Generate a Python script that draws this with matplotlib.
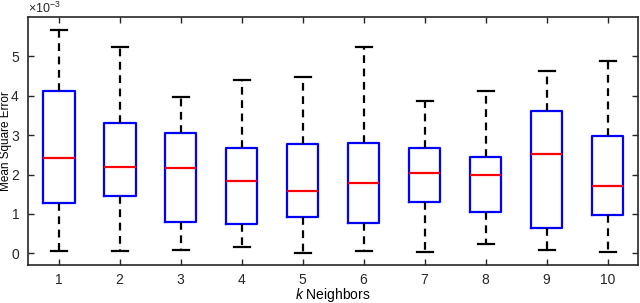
import matplotlib.pyplot as plt
import numpy as np

plt.rcParams["font.family"] = ["Liberation Sans", "DejaVu Sans"]
plt.rcParams["mathtext.fontset"] = "custom"
plt.rcParams["mathtext.rm"] = "Liberation Sans"
plt.rcParams["mathtext.it"] = "Liberation Sans:italic"

# summary stats (units of 1e-3)
k_values = [1, 2, 3, 4, 5, 6, 7, 8, 9, 10]
whisker_low = [0.06, 0.05, 0.09, 0.15, 0.01, 0.07, 0.03, 0.23, 0.09, 0.03]
q1 = [1.27, 1.45, 0.79, 0.75, 0.92, 0.78, 1.31, 1.04, 0.64, 0.97]
median = [2.43, 2.18, 2.17, 1.84, 1.57, 1.78, 2.03, 2.00, 2.53, 1.70]
q3 = [4.13, 3.30, 3.06, 2.68, 2.77, 2.80, 2.68, 2.44, 3.61, 2.99]
whisker_high = [5.66, 5.25, 3.97, 4.39, 4.47, 5.23, 3.86, 4.11, 4.63, 4.87]

scale = 1e-3
stats = []
for i in range(len(k_values)):
    stats.append({
        "whislo": whisker_low[i] * scale,
        "q1": q1[i] * scale,
        "med": median[i] * scale,
        "q3": q3[i] * scale,
        "whishi": whisker_high[i] * scale,
        "fliers": [],
    })

fig = plt.figure(figsize=(6.4, 3.03), dpi=100)
ax = fig.add_axes([0.044, 0.125, 0.953, 0.819])

ax.bxp(
    stats,
    positions=k_values,
    widths=0.52,
    showfliers=False,
    boxprops=dict(color="#0000ff", linewidth=1.6),
    medianprops=dict(color="#ff0000", linewidth=1.6),
    whiskerprops=dict(color="black", linewidth=1.6, linestyle=(0, (3.5, 2.5))),
    capprops=dict(color="black", linewidth=1.6),
)

ax.set_xlim(0.5, 10.5)
ax.set_ylim(-0.3e-3, 6e-3)
ax.set_xticks(k_values)
ax.set_xticklabels([str(k) for k in k_values])
ax.set_yticks(np.arange(0, 6) * scale)
ax.ticklabel_format(axis="y", style="sci", scilimits=(0, 0), useMathText=True)
ax.yaxis.get_offset_text().set_fontsize(9)

ax.tick_params(direction="in", top=True, right=True, labelsize=10, length=4, width=1, colors="#262626")
ax.tick_params(axis="y", pad=6)
ax.tick_params(axis="x", pad=6)
for s in ax.spines.values():
    s.set_linewidth(1.2)
    s.set_color("#262626")

ax.set_xlabel("$k$ Neighbors", fontsize=10, labelpad=-1)
ax.set_ylabel("Mean Square Error", fontsize=8.5)
ax.yaxis.set_label_coords(-0.027, 0.5)

plt.savefig("out.png", dpi=100)
